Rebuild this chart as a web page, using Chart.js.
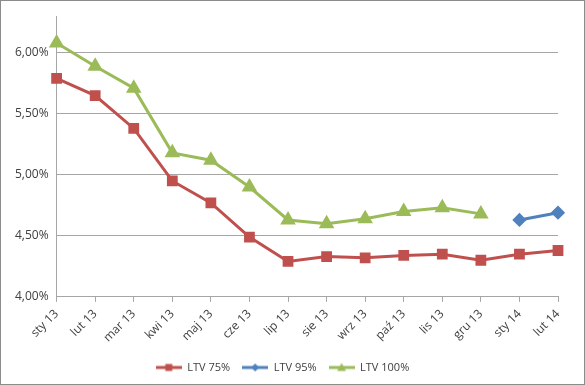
<!DOCTYPE html>
<html>
<head>
<meta charset="utf-8">
<script src="https://cdn.jsdelivr.net/npm/chart.js@4"></script>
<style>
  html, body { margin: 0; padding: 0; background: #fff; }
  #wrap { width: 583px; height: 383px; border: 1px solid #8c8c8c; position: relative; }
</style>
</head>
<body>
<div id="wrap"><canvas id="chart" width="583" height="383"></canvas></div>
<script>
const miesiace = ["sty 13", "lut 13", "mar 13", "kwi 13", "maj 13", "cze 13", "lip 13",
  "sie 13", "wrz 13", "paź 13", "lis 13", "gru 13", "sty 14", "lut 14"];
const ltv75 = [5.79, 5.65, 5.38, 4.95, 4.77, 4.49, 4.29, 4.33, 4.32, 4.34, 4.35, 4.30, 4.35, 4.38];
const ltv95 = [null, null, null, null, null, null, null, null, null, null, null, null, 4.63, 4.69];
const ltv100 = [6.08, 5.89, 5.71, 5.18, 5.12, 4.90, 4.63, 4.60, 4.64, 4.70, 4.73, 4.68, null, null];
const osY = [4.0, 4.5, 5.0, 5.5, 6.0];

const czcionka = "'Open Sans', sans-serif";
Chart.defaults.font.family = czcionka;
Chart.defaults.color = "#404040";

// ikonka legendy: linia z markerem po srodku (jak w Excelu)
function ikona(kolor, styl) {
  const c = document.createElement("canvas");
  c.width = 26;
  c.height = 12;
  const g = c.getContext("2d");
  g.strokeStyle = kolor;
  g.fillStyle = kolor;
  g.lineWidth = 3;
  g.beginPath();
  g.moveTo(0, 6);
  g.lineTo(26, 6);
  g.stroke();
  g.beginPath();
  if (styl === "rect") {
    g.rect(9.5, 2.5, 7, 7);
  } else if (styl === "rectRot") {
    g.moveTo(13, 2);
    g.lineTo(17, 6);
    g.lineTo(13, 10);
    g.lineTo(9, 6);
  } else {
    g.moveTo(13, 1.5);
    g.lineTo(17.5, 9.5);
    g.lineTo(8.5, 9.5);
  }
  g.closePath();
  g.fill();
  return c;
}

const ctx = document.getElementById("chart").getContext("2d");
new Chart(ctx, {
  type: "line",
  data: {
    labels: miesiace,
    datasets: [
      {
        label: "LTV 75%",
        data: ltv75,
        borderColor: "#C0504D",
        backgroundColor: "#C0504D",
        borderWidth: 3,
        pointStyle: "rect",
        pointRadius: 5.5,
        pointHoverRadius: 5.5,
        tension: 0,
      },
      {
        label: "LTV 95%",
        data: ltv95,
        borderColor: "#4F81BD",
        backgroundColor: "#4F81BD",
        borderWidth: 3,
        pointStyle: "rectRot",
        pointRadius: 5,
        pointHoverRadius: 5,
        tension: 0,
      },
      {
        label: "LTV 100%",
        data: ltv100,
        borderColor: "#9BBB59",
        backgroundColor: "#9BBB59",
        borderWidth: 3,
        pointStyle: "triangle",
        pointRadius: 6,
        pointHoverRadius: 6,
        tension: 0,
      },
    ],
  },
  options: {
    responsive: false,
    animation: false,
    layout: { padding: { top: 14, right: 26, left: 6, bottom: 1 } },
    plugins: {
      tooltip: { enabled: false },
      legend: {
        position: "bottom",
        labels: {
          usePointStyle: true,
          pointStyleWidth: 26,
          boxHeight: 8,
          padding: 12,
          font: { size: 11 },
          color: "#404040",
          generateLabels: (chart) => {
            const items = Chart.defaults.plugins.legend.labels.generateLabels(chart);
            items.forEach((it) => {
              const ds = chart.data.datasets[it.datasetIndex];
              it.pointStyle = ikona(ds.borderColor, ds.pointStyle);
            });
            return items;
          },
        },
      },
    },
    scales: {
      x: {
        offset: false,
        grid: {
          drawOnChartArea: false,
          drawTicks: true,
          tickLength: 5,
          color: "#a6a6a6",
        },
        border: { color: "#a6a6a6", width: 1 },
        ticks: {
          maxRotation: 45,
          minRotation: 45,
          autoSkip: false,
          padding: 5,
          font: { size: 12 },
          color: "#404040",
        },
      },
      y: {
        min: 4.0,
        max: 6.3,
        afterBuildTicks: (axis) => {
          axis.ticks = osY.map((v) => ({ value: v }));
        },
        grid: {
          color: "#a6a6a6",
          drawTicks: false,
        },
        border: { color: "#a6a6a6", width: 1 },
        ticks: {
          padding: 8,
          font: { size: 12 },
          color: "#404040",
          callback: (v) => v.toFixed(2).replace(".", ",") + "%",
        },
      },
    },
  },
});
</script>
</body>
</html>
